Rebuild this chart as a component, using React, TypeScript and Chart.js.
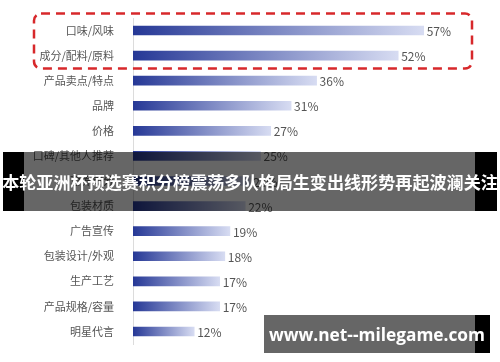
import React, { useEffect, useRef } from "react";
import { Chart, registerables } from "chart.js";

Chart.register(...registerables);

const categories = [
  "口味/风味",
  "成分/配料/原料",
  "产品卖点/特点",
  "品牌",
  "价格",
  "口碑/其他人推荐",
  "营养成分",
  "包装材质",
  "广告宣传",
  "包装设计/外观",
  "生产工艺",
  "产品规格/容量",
  "明星代言",
];
const values = [57, 52, 36, 31, 27, 25, 23, 22, 19, 18, 17, 17, 12];
const bannerTitle = "本轮亚洲杯预选赛积分榜震荡多队格局生变出线形势再起波澜关注";
const watermark = "www.net--milegame.com";

const FONT = "'Noto Sans CJK SC', 'Noto Sans', sans-serif";

const valueLabels = {
  id: "valueLabels",
  afterDatasetsDraw(chart: any) {
    const ctx = chart.ctx;
    const meta = chart.getDatasetMeta(0);
    ctx.save();
    ctx.font = `12px ${FONT}`;
    ctx.fillStyle = "#555";
    ctx.textAlign = "left";
    ctx.textBaseline = "middle";
    meta.data.forEach((el: any, i: number) => {
      ctx.fillText(`${values[i]}%`, el.x + 3, el.y + 1);
    });
    ctx.restore();
  },
};

const highlightBox = {
  id: "highlightBox",
  afterDraw(chart: any) {
    const ctx = chart.ctx;
    const y = chart.scales.y;
    const top = y.getPixelForValue(0) - 17;
    const bottom = y.getPixelForValue(1) + 13;
    const left = 34;
    const right = 472;
    ctx.save();
    ctx.strokeStyle = "#d7282b";
    ctx.lineWidth = 2.5;
    ctx.setLineDash([9, 6]);
    ctx.beginPath();
    ctx.roundRect(left, top, right - left, bottom - top, 7);
    ctx.stroke();
    ctx.restore();
  },
};

export default function App() {
  const ref = useRef<HTMLCanvasElement>(null);
  useEffect(() => {
    if (!ref.current) return;
    const chart = new Chart(ref.current, {
      type: "bar",
      data: {
        labels: categories,
        datasets: [
          {
            data: values,
            barThickness: 9,
            backgroundColor: (c: any) => {
              const ch = c.chart;
              const area = ch.chartArea;
              if (!area || c.dataIndex === undefined) return "#3a4aa0";
              const xs = ch.scales.x;
              const x0 = xs.getPixelForValue(0);
              const x1 = xs.getPixelForValue(values[c.dataIndex]);
              const g = ch.ctx.createLinearGradient(x0, 0, x1, 0);
              g.addColorStop(0, "rgb(38,56,150)");
              g.addColorStop(1, "rgb(215,220,242)");
              return g;
            },
          },
        ],
      },
      options: {
        indexAxis: "y",
        animation: false,
        responsive: false,
        layout: { padding: { top: 18, bottom: 18, right: 10, left: 0 } },
        plugins: { legend: { display: false }, tooltip: { enabled: false } },
        scales: {
          x: { display: false, min: 0, max: 70 },
          y: {
            grid: { display: false },
            border: { display: true, color: "#dcdcdc", width: 1 },
            ticks: {
              color: "#555",
              padding: 11,
              font: { family: FONT, size: 11 },
            },
            afterFit: (s: any) => {
              s.width = 133;
            },
          },
        },
      },
      plugins: [valueLabels, highlightBox],
    });
    return () => chart.destroy();
  }, []);

  return (
    <div style={{ position: "fixed", left: 0, top: 0, width: 500, height: 362, background: "#fff", overflow: "hidden" }}>
      <canvas ref={ref} width={500} height={362} style={{ display: "block" }} />
      <div style={{ position: "absolute", left: 3, top: 152, width: 21, height: 59, background: "#000" }} />
      <div style={{ position: "absolute", left: 24, top: 152, width: 451, height: 59, background: "rgba(0,0,0,0.6)" }} />
      <div style={{ position: "absolute", left: 475, top: 152, width: 22, height: 59, background: "#000" }} />
      <div
        style={{
          position: "absolute",
          left: 0,
          top: 152,
          width: 500,
          height: 59,
          display: "flex",
          alignItems: "center",
          justifyContent: "center",
          color: "#fff",
          fontFamily: FONT,
          fontWeight: 700,
          fontSize: 17.1,
          whiteSpace: "nowrap",
          letterSpacing: 0,
        }}
      >
        {bannerTitle}
      </div>
      <div style={{ position: "absolute", left: 264, top: 315, width: 211, height: 38, background: "rgba(0,0,0,0.6)" }} />
      <div style={{ position: "absolute", left: 475, top: 315, width: 15, height: 38, background: "#000" }} />
      <div
        style={{
          position: "absolute",
          left: 264,
          top: 315,
          width: 226,
          height: 38,
          display: "flex",
          alignItems: "center",
          justifyContent: "center",
          color: "#fff",
          fontFamily: "'Open Sans', sans-serif",
          fontWeight: 700,
          fontSize: 17.3,
          whiteSpace: "nowrap",
        }}
      >
        {watermark}
      </div>
    </div>
  );
}
